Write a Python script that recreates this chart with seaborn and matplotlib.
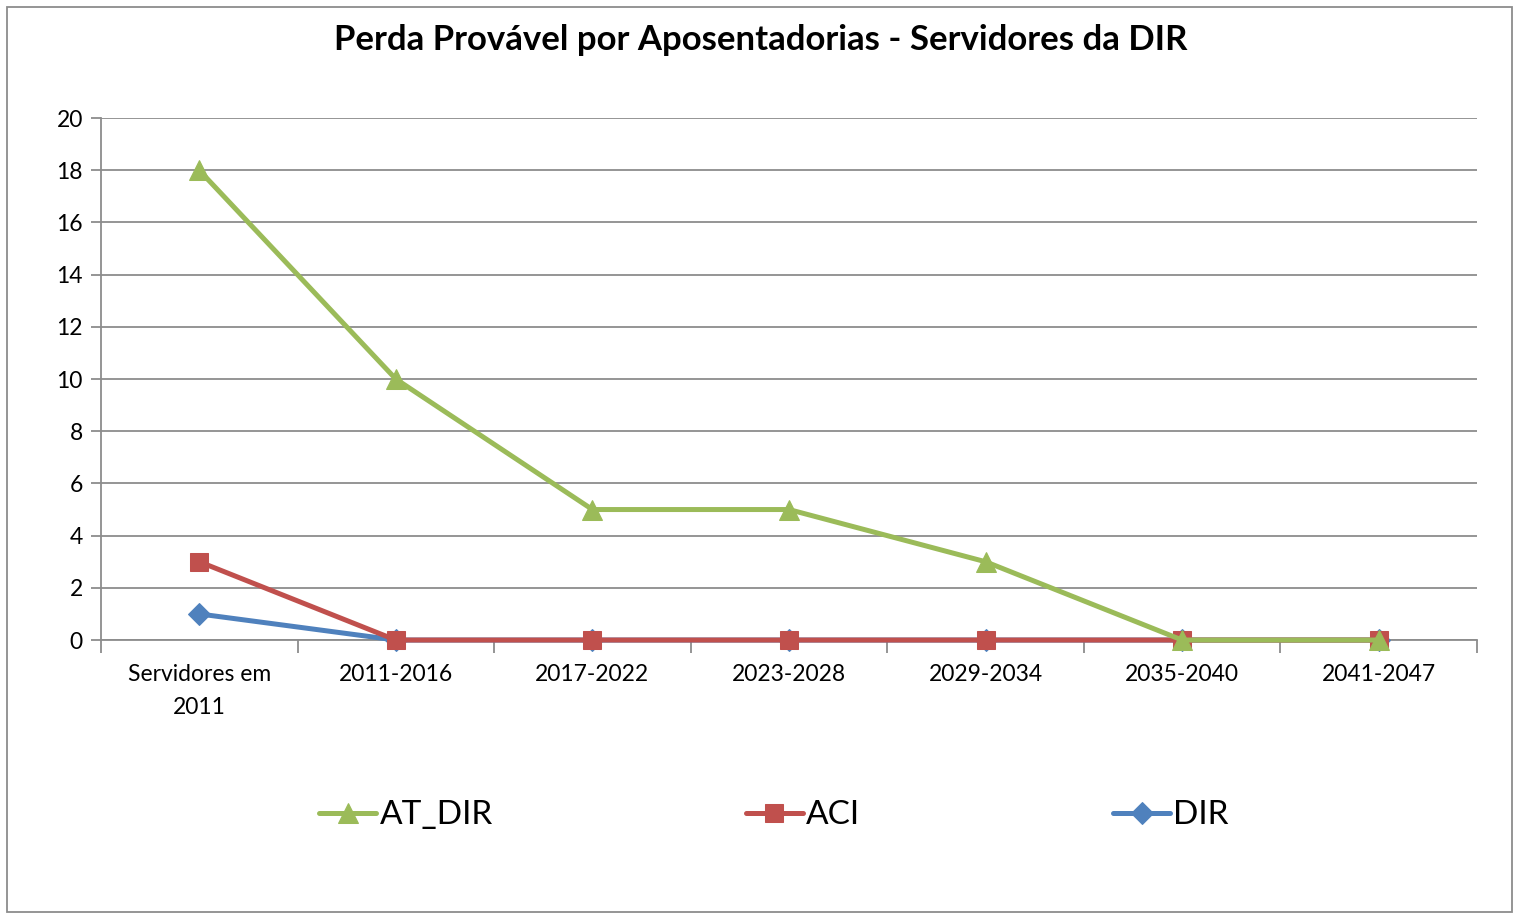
import matplotlib
matplotlib.use("Agg")
import matplotlib.pyplot as plt
import seaborn as sns
import pandas as pd
from matplotlib.patches import Rectangle

categories = ["Servidores em\n2011", "2011-2016", "2017-2022", "2023-2028", "2029-2034", "2035-2040", "2041-2047"]
at_dir = [18, 10, 5, 5, 3, 0, 0]
aci = [3, 0, 0, 0, 0, 0, 0]
dir_ = [1, 0, 0, 0, 0, 0, 0]
yticks = list(range(0, 21, 2))

sns.set_theme(style="white")
plt.rcParams['font.family'] = ['Lato', 'DejaVu Sans']
plt.rcParams['text.color'] = 'black'
plt.rcParams['xtick.color'] = 'black'
plt.rcParams['ytick.color'] = 'black'

fig = plt.figure(figsize=(15.18, 9.15), dpi=100)
ax = fig.add_axes([0.0665, 0.3005, 0.9065, 0.5705])

grid_c = "#8c8c8c"
series = [("DIR", dir_, "#4F81BD", "D", 11.5), ("ACI", aci, "#C0504D", "s", 13), ("AT_DIR", at_dir, "#9BBB59", "^", 14)]
pos = list(range(len(categories)))
for name, vals, col, mk, ms in series:
    df = pd.DataFrame({"x": pos, "y": vals})
    sns.lineplot(data=df, x="x", y="y", ax=ax, color=col, lw=3.6, marker=mk,
                 markersize=ms, markeredgecolor=col, label=name, zorder=3, clip_on=False)
handles_list, labels_list = ax.get_legend_handles_labels()
ax.get_legend().remove()

ax.set_xlim(-0.5, len(categories) - 0.5)
ax.set_ylim(0, 20)
ax.set_yticks(yticks)
ax.set_yticklabels([str(v) for v in yticks], fontsize=16.5)
ax.set_xticks(pos)
ax.set_xticklabels(categories, fontsize=16.5, linespacing=1.7)
ax.tick_params(axis="x", length=0, pad=17, labelcolor="black")
ax.tick_params(axis="y", length=7, width=1.3, color=grid_c, pad=6, left=True, labelcolor="black")
ax.set_xticks([p - 0.5 for p in pos] + [len(categories) - 0.5], minor=True)
ax.tick_params(axis="x", which="minor", length=9, width=1.3, color=grid_c, bottom=True)
ax.set_xlabel("")
ax.set_ylabel("")
for y in yticks:
    ax.axhline(y, color=grid_c, lw=1.3, zorder=1)
for s in ["top", "right"]:
    ax.spines[s].set_visible(False)
for s in ["left", "bottom"]:
    ax.spines[s].set_color(grid_c)
    ax.spines[s].set_linewidth(1.3)

fig.text(0.501, 0.956, "Perda Provável por Aposentadorias - Servidores da DIR",
         ha="center", va="center", fontsize=25, fontweight="bold", color="black")

order = ["AT_DIR", "ACI", "DIR"]
h = [handles_list[labels_list.index(o)] for o in order]
fig.legend(h, order, loc="center", bbox_to_anchor=(0.51, 0.109), ncol=3, frameon=False,
           fontsize=24, handlelength=1.7, handletextpad=0.1, columnspacing=7.6, labelcolor="black")

fig.patches.append(Rectangle((7 / 1518, 3 / 915), 1505 / 1518, 905 / 915, transform=fig.transFigure,
                             fill=False, edgecolor="#8c8c8c", lw=1.3))
fig.savefig("out.png", dpi=100)
